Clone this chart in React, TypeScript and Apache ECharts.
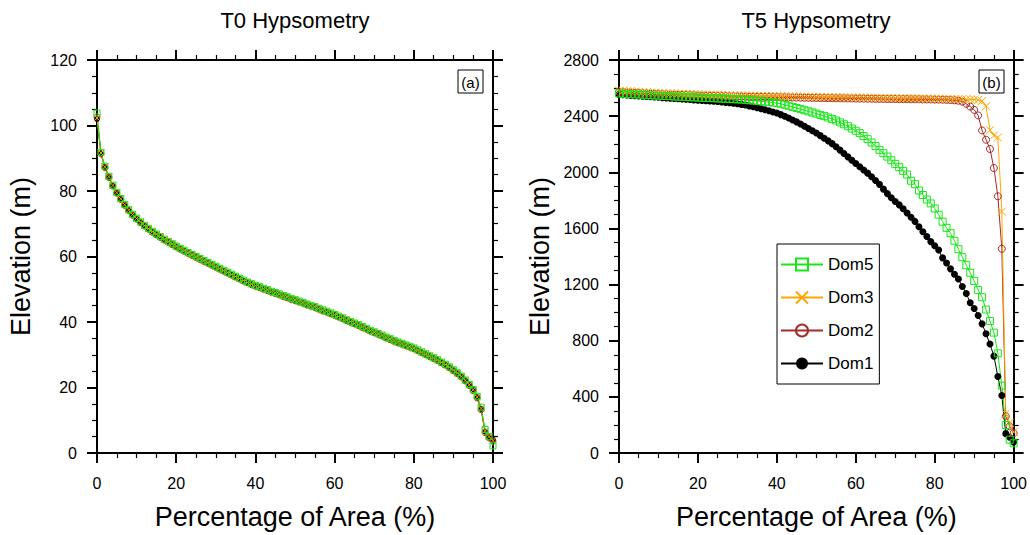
import React, { useEffect, useRef } from "react";
import * as echarts from "echarts";

// Percentage of area (x positions of samples)
const pct = [
  0, 1, 2, 3, 4, 5, 6, 7, 8, 9,
  10, 11, 12, 13, 14, 15, 16, 17, 18, 19,
  20, 21, 22, 23, 24, 25, 26, 27, 28, 29,
  30, 31, 32, 33, 34, 35, 36, 37, 38, 39,
  40, 41, 42, 43, 44, 45, 46, 47, 48, 49,
  50, 51, 52, 53, 54, 55, 56, 57, 58, 59,
  60, 61, 62, 63, 64, 65, 66, 67, 68, 69,
  70, 71, 72, 73, 74, 75, 76, 77, 78, 79,
  80, 81, 82, 83, 84, 85, 86, 87, 88, 89,
  90, 91, 92, 93, 94, 95, 96, 97, 98, 99, 100,
];

// ---- T0 elevations (m) ----
const t0Dom1 = [
  102.0, 91.5, 87.3, 84.3, 81.6, 79.4, 77.5, 75.7, 74.1, 72.7,
  71.5, 70.4, 69.3, 68.4, 67.5, 66.7, 65.9, 65.1, 64.4, 63.7,
  63.0, 62.3, 61.7, 61.0, 60.4, 59.8, 59.2, 58.6, 58.0, 57.4,
  56.8, 56.2, 55.6, 55.0, 54.4, 53.8, 53.2, 52.6, 52.0, 51.5,
  51.0, 50.6, 50.1, 49.7, 49.2, 48.8, 48.4, 47.9, 47.5, 47.0,
  46.6, 46.2, 45.8, 45.3, 44.9, 44.5, 44.0, 43.5, 43.1, 42.6,
  42.1, 41.6, 41.1, 40.5, 40.0, 39.5, 39.0, 38.4, 37.9, 37.3,
  36.8, 36.3, 35.8, 35.2, 34.7, 34.2, 33.7, 33.3, 32.8, 32.4,
  31.9, 31.3, 30.7, 30.1, 29.5, 28.9, 28.3, 27.6, 26.9, 26.1,
  25.2, 24.3, 23.3, 22.1, 20.7, 19.2, 17.0, 13.5, 6.5, 4.8, 4.0,
];
const t0Dom2 = [
  102.6, 91.3, 87.1, 84.1, 81.5, 79.3, 77.4, 75.6, 74.0, 72.6,
  71.4, 70.3, 69.3, 68.3, 67.4, 66.6, 65.8, 65.0, 64.3, 63.6,
  62.9, 62.2, 61.6, 61.0, 60.3, 59.7, 59.1, 58.5, 57.9, 57.3,
  56.7, 56.1, 55.5, 54.9, 54.3, 53.7, 53.1, 52.5, 52.0, 51.4,
  50.9, 50.5, 50.0, 49.6, 49.1, 48.7, 48.3, 47.8, 47.4, 46.9,
  46.5, 46.1, 45.7, 45.2, 44.8, 44.4, 43.9, 43.4, 43.0, 42.5,
  42.0, 41.5, 41.0, 40.4, 39.9, 39.4, 38.9, 38.3, 37.8, 37.2,
  36.7, 36.2, 35.7, 35.1, 34.6, 34.1, 33.6, 33.2, 32.7, 32.3,
  31.8, 31.2, 30.6, 30.0, 29.4, 28.8, 28.2, 27.5, 26.8, 26.0,
  25.1, 24.2, 23.2, 22.0, 20.6, 19.0, 16.8, 13.2, 6.2, 4.6, 3.6,
];
const t0Dom3 = [
  102.3, 91.6, 87.4, 84.4, 81.7, 79.5, 77.6, 75.8, 74.2, 72.8,
  71.6, 70.5, 69.4, 68.5, 67.6, 66.8, 66.0, 65.2, 64.5, 63.8,
  63.1, 62.4, 61.8, 61.1, 60.5, 59.9, 59.3, 58.7, 58.1, 57.5,
  56.9, 56.3, 55.7, 55.1, 54.5, 53.9, 53.3, 52.7, 52.1, 51.6,
  51.1, 50.7, 50.2, 49.8, 49.3, 48.9, 48.5, 48.0, 47.6, 47.1,
  46.7, 46.3, 45.9, 45.4, 45.0, 44.6, 44.1, 43.6, 43.2, 42.7,
  42.2, 41.7, 41.2, 40.6, 40.1, 39.6, 39.1, 38.5, 38.0, 37.4,
  36.9, 36.4, 35.9, 35.3, 34.8, 34.3, 33.8, 33.4, 32.9, 32.5,
  32.0, 31.4, 30.8, 30.2, 29.6, 29.0, 28.4, 27.7, 27.0, 26.2,
  25.3, 24.4, 23.4, 22.2, 20.8, 19.3, 17.1, 13.6, 6.8, 5.0, 3.8,
];
const t0Dom5 = [
  103.8, 91.8, 87.6, 84.5, 81.8, 79.6, 77.7, 75.9, 74.3, 72.9,
  71.7, 70.6, 69.5, 68.6, 67.7, 66.9, 66.1, 65.3, 64.6, 63.9,
  63.2, 62.5, 61.9, 61.2, 60.6, 60.0, 59.4, 58.8, 58.2, 57.6,
  57.0, 56.4, 55.8, 55.2, 54.6, 54.0, 53.4, 52.8, 52.2, 51.7,
  51.2, 50.8, 50.3, 49.9, 49.4, 49.0, 48.6, 48.1, 47.7, 47.2,
  46.8, 46.4, 46.0, 45.5, 45.1, 44.7, 44.2, 43.7, 43.3, 42.8,
  42.3, 41.8, 41.3, 40.7, 40.2, 39.7, 39.2, 38.6, 38.1, 37.5,
  37.0, 36.5, 36.0, 35.4, 34.9, 34.4, 33.9, 33.5, 33.0, 32.6,
  32.1, 31.5, 30.9, 30.3, 29.7, 29.1, 28.5, 27.8, 27.1, 26.3,
  25.4, 24.5, 23.5, 22.3, 20.9, 19.4, 17.3, 14.0, 7.2, 5.0, 2.2,
];

// ---- T5 elevations (m) ----
const t5Dom1 = [
  2555, 2552, 2550, 2548, 2546, 2544, 2542, 2540, 2538, 2536,
  2534, 2532, 2530, 2528, 2526, 2524, 2522, 2520, 2518, 2516,
  2514, 2512, 2510, 2508, 2506, 2504, 2501, 2498, 2495, 2492,
  2488, 2484, 2479, 2473, 2467, 2460, 2453, 2446, 2438, 2430,
  2422, 2411, 2399, 2387, 2373, 2359, 2344, 2328, 2312, 2296,
  2280, 2261, 2242, 2224, 2204, 2182, 2158, 2134, 2110, 2086,
  2062, 2040, 2016, 1994, 1968, 1942, 1914, 1880, 1848, 1818,
  1792, 1768, 1740, 1710, 1680, 1650, 1612, 1576, 1542, 1506,
  1476, 1446, 1390, 1354, 1312, 1274, 1240, 1186, 1136, 1070,
  1030, 980, 920, 850, 776, 690, 545, 410, 138, 112, 78,
];
const t5Dom2 = [
  2572, 2570, 2568, 2567, 2565, 2564, 2562, 2561, 2560, 2558,
  2557, 2556, 2555, 2554, 2553, 2552, 2551, 2550, 2549, 2548,
  2547, 2546, 2546, 2545, 2544, 2543, 2543, 2542, 2541, 2541,
  2540, 2539, 2539, 2538, 2538, 2537, 2537, 2536, 2536, 2535,
  2535, 2534, 2534, 2533, 2533, 2532, 2532, 2531, 2531, 2530,
  2530, 2529, 2529, 2528, 2528, 2527, 2527, 2527, 2526, 2526,
  2525, 2525, 2525, 2524, 2524, 2523, 2523, 2523, 2522, 2522,
  2522, 2521, 2521, 2521, 2520, 2520, 2520, 2519, 2519, 2519,
  2518, 2518, 2517, 2516, 2515, 2513, 2510, 2503, 2488, 2468,
  2445, 2405, 2298, 2232, 2166, 2030, 1829, 1455, 262, 190, 142,
];
const t5Dom3 = [
  2582, 2580, 2578, 2577, 2575, 2573, 2571, 2570, 2568, 2567,
  2565, 2564, 2563, 2562, 2561, 2560, 2559, 2558, 2557, 2556,
  2555, 2554, 2554, 2553, 2552, 2551, 2551, 2550, 2549, 2548,
  2548, 2547, 2547, 2546, 2545, 2545, 2544, 2544, 2543, 2543,
  2542, 2542, 2541, 2541, 2540, 2540, 2539, 2539, 2538, 2538,
  2537, 2537, 2536, 2536, 2535, 2535, 2534, 2534, 2533, 2533,
  2532, 2532, 2532, 2531, 2531, 2530, 2530, 2529, 2529, 2529,
  2528, 2528, 2528, 2527, 2527, 2526, 2526, 2526, 2525, 2525,
  2524, 2524, 2523, 2523, 2522, 2522, 2521, 2521, 2520, 2519,
  2518, 2515, 2508, 2470, 2300, 2262, 2248, 1720, 280, 215, 150,
];
const t5Dom5 = [
  2562, 2560, 2558, 2557, 2555, 2554, 2552, 2550, 2549, 2547,
  2546, 2544, 2543, 2542, 2540, 2539, 2538, 2536, 2535, 2534,
  2532, 2531, 2530, 2529, 2528, 2526, 2525, 2524, 2522, 2521,
  2520, 2518, 2516, 2513, 2511, 2508, 2506, 2503, 2500, 2497,
  2493, 2488, 2481, 2474, 2466, 2458, 2450, 2442, 2434, 2426,
  2418, 2409, 2400, 2390, 2380, 2369, 2356, 2342, 2328, 2312,
  2296, 2279, 2258, 2236, 2212, 2187, 2160, 2136, 2112, 2086,
  2060, 2036, 2010, 1984, 1940, 1915, 1870, 1838, 1806, 1778,
  1742, 1698, 1648, 1604, 1566, 1512, 1452, 1395, 1338, 1284,
  1226, 1162, 1110, 1022, 940, 858, 710, 480, 199, 95, 69,
];

const seriesNames = ["Dom1", "Dom2", "Dom3", "Dom5"];
const legendOrder = ["Dom5", "Dom3", "Dom2", "Dom1"];
const panelTitles = ["T0 Hypsometry", "T5 Hypsometry"];
const panelTags = ["(a)", "(b)"];
const xName = "Percentage of Area (%)";
const yName = "Elevation (m)";

const FONT = "Liberation Sans, Arial, Helvetica, sans-serif";

const look: Record<string, any> = {
  Dom1: { color: "#000000", symbol: "circle", fill: "#000000" },
  Dom2: { color: "#a52a2a", symbol: "circle", fill: "transparent" },
  Dom3: { color: "#ffa500", symbol: "path://M0,0L10,10M10,0L0,10", fill: "transparent" },
  Dom5: { color: "#19e619", symbol: "rect", fill: "transparent" },
};

const plain = (v: number) => String(v);

function xAxisCfg(grid: number, top: boolean, withName: boolean) {
  return {
    type: "value",
    gridIndex: grid,
    position: top ? "top" : "bottom",
    min: 0,
    max: 100,
    interval: 20,
    axisLine: { show: true, onZero: false, lineStyle: { color: "#000", width: 2 } },
    axisTick: { show: true, length: 10, lineStyle: { color: "#000", width: 2 } },
    minorTick: { show: true, splitNumber: 4, length: 5, lineStyle: { color: "#000", width: 1.2 } },
    splitLine: { show: false },
    minorSplitLine: { show: false },
    axisLabel: { show: !top, margin: 22, fontSize: 16, color: "#000", fontFamily: FONT, formatter: plain },
    name: withName ? xName : "",
    nameLocation: "middle",
    nameGap: 50,
    nameTextStyle: { fontSize: 27, color: "#000", fontFamily: FONT },
  };
}

function yAxisCfg(grid: number, right: boolean, max: number, interval: number, gap: number) {
  return {
    type: "value",
    gridIndex: grid,
    position: right ? "right" : "left",
    min: 0,
    max,
    interval,
    axisLine: { show: true, onZero: false, lineStyle: { color: "#000", width: 2 } },
    axisTick: { show: true, length: 10, lineStyle: { color: "#000", width: 2 } },
    minorTick: { show: true, splitNumber: 4, length: 5, lineStyle: { color: "#000", width: 1.2 } },
    splitLine: { show: false },
    minorSplitLine: { show: false },
    axisLabel: { show: !right, margin: 20, fontSize: 16, color: "#000", fontFamily: FONT, formatter: plain },
    name: right ? "" : yName,
    nameLocation: "middle",
    nameGap: gap,
    nameRotate: 90,
    nameTextStyle: { fontSize: 27, color: "#000", fontFamily: FONT },
  };
}

function makeSeries(name: string, values: number[], xIdx: number, yIdx: number, size: number) {
  const l = look[name];
  return {
    type: "line",
    name,
    xAxisIndex: xIdx,
    yAxisIndex: yIdx,
    data: values.map((v, i) => [pct[i], v]),
    symbol: l.symbol,
    symbolSize: name === "Dom3" ? size + 1 : size,
    showSymbol: true,
    showAllSymbol: true,
    lineStyle: { color: l.color, width: 1 },
    itemStyle: { color: l.fill, borderColor: l.color, borderWidth: name === "Dom1" ? 0 : 1 },
    emphasis: { disabled: true },
    silent: true,
  };
}

export default function App() {
  const ref = useRef<HTMLDivElement>(null);
  useEffect(() => {
    if (!ref.current) return;
    const chart = echarts.init(ref.current, undefined, { renderer: "svg" });
    const t0 = [t0Dom1, t0Dom2, t0Dom3, t0Dom5];
    const t5 = [t5Dom1, t5Dom2, t5Dom3, t5Dom5];
    const series: any[] = [];
    seriesNames.forEach((n, i) => series.push(makeSeries(n, t0[i], 0, 0, 6)));
    seriesNames.forEach((n, i) => series.push(makeSeries(n, t5[i], 2, 2, 7)));

    const tagBox = (x: number, y: number, t: string) => ({
      type: "group",
      z: 100,
      children: [
        { type: "rect", shape: { x, y, width: 25, height: 23 }, style: { fill: "#fff", stroke: "#000", lineWidth: 1 } },
        {
          type: "text",
          x: x + 12.5,
          y: y + 12,
          style: { text: t, fontSize: 15, fontFamily: FONT, fill: "#000", align: "center", verticalAlign: "middle", textAlign: "center", textVerticalAlign: "middle" },
        },
      ],
    });
    const titleText = (x: number, t: string) => ({
      type: "text",
      x,
      y: 20,
      style: { text: t, fontSize: 22, fontFamily: FONT, fill: "#000", align: "center", verticalAlign: "middle", textAlign: "center", textVerticalAlign: "middle" },
    });

    chart.setOption({
      animation: false,
      backgroundColor: "#fff",
      grid: [
        { left: 97, top: 60, width: 396, height: 394, containLabel: false },
        { left: 619, top: 60, width: 395, height: 394, containLabel: false },
      ],
      xAxis: [xAxisCfg(0, false, true), xAxisCfg(0, true, false), xAxisCfg(1, false, true), xAxisCfg(1, true, false)],
      yAxis: [
        yAxisCfg(0, false, 120, 20, 63),
        yAxisCfg(0, true, 120, 20, 0),
        yAxisCfg(1, false, 2800, 400, 66),
        yAxisCfg(1, true, 2800, 400, 0),
      ],
      legend: {
        data: legendOrder,
        orient: "vertical",
        left: 777,
        top: 244,
        itemWidth: 42,
        itemHeight: 15,
        itemGap: 16,
        padding: [12, 6, 12, 3],
        borderColor: "#000",
        borderWidth: 1,
        backgroundColor: "#fff",
        selectedMode: false,
        textStyle: { fontSize: 17, color: "#000", fontFamily: FONT },
      },
      graphic: [
        titleText(295, panelTitles[0]),
        titleText(816, panelTitles[1]),
        tagBox(458, 70, panelTags[0]),
        tagBox(979, 70, panelTags[1]),
      ],
      series,
    });
    return () => chart.dispose();
  }, []);
  return <div ref={ref} style={{ position: "fixed", left: 0, top: 0, width: 1030, height: 535, background: "#fff" }} />;
}
